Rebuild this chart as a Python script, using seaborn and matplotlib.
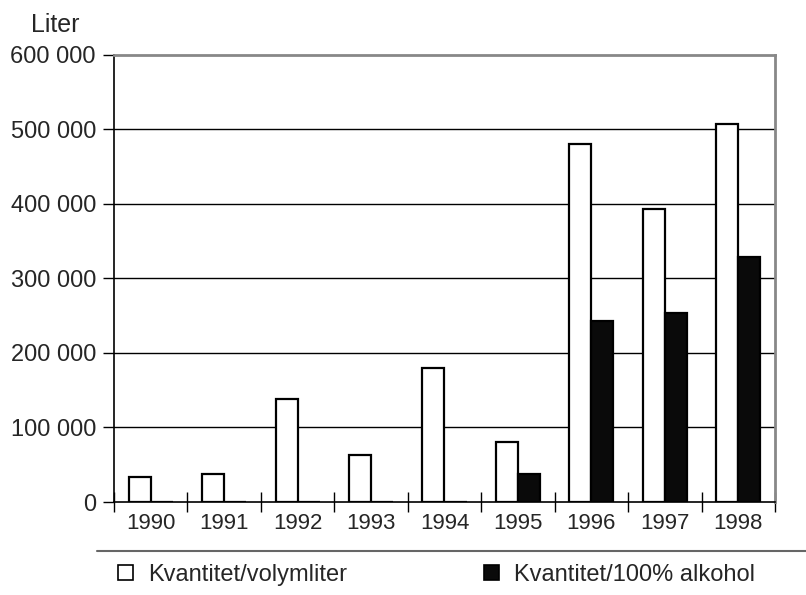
import pandas as pd
import seaborn as sns
import matplotlib.pyplot as plt
from matplotlib.lines import Line2D
from matplotlib.patches import Patch

# Values
years = ['1990', '1991', '1992', '1993', '1994', '1995', '1996', '1997', '1998']
volymliter = [33000, 37500, 138000, 62500, 180000, 80000, 480500, 393000, 507000]
alkohol = [0, 0, 0, 0, 0, 38000, 243000, 254000, 329000]
series = ['Kvantitet/volymliter', 'Kvantitet/100% alkohol']
y_ticks = [0, 100000, 200000, 300000, 400000, 500000, 600000]
y_tick_labels = ['0', '100 000', '200 000', '300 000', '400 000', '500 000', '600 000']

# Long format for seaborn
df = pd.DataFrame({
    'Year': years * 2,
    'Liter': volymliter + alkohol,
    'Serie': [series[0]] * len(years) + [series[1]] * len(years),
})

sns.set_style('white')
plt.rcParams['font.family'] = ['Liberation Sans', 'DejaVu Sans']

fig = plt.figure(figsize=(8.06, 5.95), dpi=100)
ax = fig.add_axes([0.1414, 0.1563, 0.8201, 0.7513])

colors = {series[0]: 'white', series[1]: '#0a0a0a'}
sns.barplot(data=df, x='Year', y='Liter', hue='Serie', order=years,
            hue_order=series, palette=colors, width=0.6, edgecolor='black',
            linewidth=1.6, ax=ax, legend=False, zorder=3)

ax.set_ylim(0, 600000)
ax.set_xlim(-0.5, len(years) - 0.5)
ax.set_yticks(y_ticks)
ax.set_yticklabels(y_tick_labels, fontsize=17)
ax.set_xticks(range(len(years)))
ax.set_xticklabels(years, fontsize=16)
ax.set_xticks([i - 0.5 for i in range(len(years) + 1)], minor=True)
ax.tick_params(axis='x', which='major', length=0, pad=8)
ax.tick_params(axis='x', which='minor', direction='inout', length=14,
               width=1, color='black', bottom=True)
ax.tick_params(axis='y', which='major', direction='out', length=8,
               width=1, color='black', left=True, pad=5)
ax.set_xlabel('')
ax.set_ylabel('')

# horizontal gridlines
for v in y_ticks[1:-1]:
    ax.axhline(v, color='black', linewidth=1, zorder=1)

for side in ['left', 'bottom']:
    ax.spines[side].set_color('black')
    ax.spines[side].set_linewidth(1.2)
for side in ['top', 'right']:
    ax.spines[side].set_color('#888888')
    ax.spines[side].set_linewidth(2)

fig.text(0.068, 0.958, 'Liter', fontsize=18, ha='center', va='center')

# legend below with a single rule above it
handles = [Patch(facecolor=colors[s], edgecolor='black', linewidth=1.2) for s in series]
fig.legend(handles, series, loc='center left', bbox_to_anchor=(0.146, 0.034),
           ncol=2, frameon=False, fontsize=17, handlelength=0.64,
           handleheight=0.64, handletextpad=0.64, columnspacing=5.8,
           borderpad=0, borderaxespad=0)
fig.add_artist(Line2D([0.12, 1.0], [1 - 551 / 595, 1 - 551 / 595],
                      color='#666666', linewidth=1.5, transform=fig.transFigure))

plt.savefig('out.png', dpi=100)
